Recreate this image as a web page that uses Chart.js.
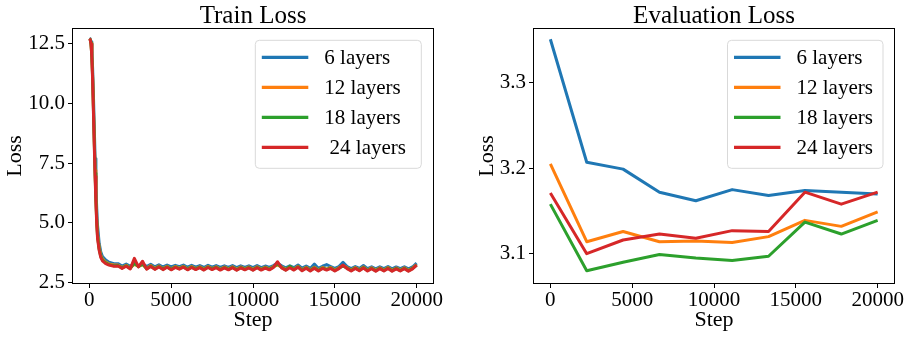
<!DOCTYPE html>
<html>
<head>
<meta charset="utf-8">
<script src="https://cdn.jsdelivr.net/npm/chart.js@4.4.1/dist/chart.umd.min.js"></script>
<style>
html, body { margin: 0; padding: 0; background: #fff; }
#wrap { position: relative; width: 911px; height: 338px; }
#trainBox { position: absolute; left: 0; top: 0; width: 455px; height: 338px; }
#evalBox { position: absolute; left: 455px; top: 0; width: 456px; height: 338px; }
</style>
</head>
<body>
<div id="wrap">
  <div id="trainBox"><canvas id="trainChart" width="455" height="338"></canvas></div>
  <div id="evalBox"><canvas id="evalChart" width="456" height="338"></canvas></div>
</div>
<script>
// DATA
const evalNames = ['6 layers', '12 layers', '18 layers', '24 layers'];
const trainNames = ['6 layers', '12 layers', '18 layers', ' 24 layers'];
const seriesColors = ['#1f77b4', '#ff7f0e', '#2ca02c', '#d62728'];

const trainSteps = [
  0, 50, 100, 150, 200, 250, 300, 350, 400, 450, 500, 600, 700, 800, 1000, 1200, 1500,
  1750, 2000, 2250, 2500, 2750, 3000, 3250, 3500,
  3750, 4000, 4250, 4500, 4750, 5000, 5250, 5500,
  5750, 6000, 6250, 6500, 6750, 7000, 7250, 7500,
  7750, 8000, 8250, 8500, 8750, 9000, 9250, 9500,
  9750, 10000, 10250, 10500, 10750, 11000, 11250, 11500,
  11750, 12000, 12250, 12500, 12750, 13000, 13250, 13500,
  13750, 14000, 14250, 14500, 14750, 15000, 15250, 15500,
  15750, 16000, 16250, 16500, 16750, 17000, 17250, 17500,
  17750, 18000, 18250, 18500, 18750, 19000, 19250, 19500,
  19750, 20000
];
const train6 = [
  12.72, 12.70, 12.58, 12.25, 11.45, 10.30, 9.00, 7.70, 6.55, 5.60, 4.90, 4.15, 3.78, 3.60, 3.45, 3.36, 3.30,
  3.30, 3.20, 3.28, 3.19, 3.32, 3.21, 3.30, 3.18,
  3.27, 3.17, 3.25, 3.16, 3.24, 3.16, 3.23, 3.17,
  3.24, 3.15, 3.23, 3.15, 3.22, 3.14, 3.23, 3.15,
  3.22, 3.14, 3.21, 3.14, 3.22, 3.13, 3.21, 3.14,
  3.21, 3.13, 3.22, 3.13, 3.20, 3.14, 3.22, 3.32,
  3.21, 3.12, 3.21, 3.13, 3.24, 3.11, 3.20, 3.10,
  3.28, 3.10, 3.19, 3.26, 3.18, 3.10, 3.18, 3.35,
  3.18, 3.09, 3.18, 3.10, 3.22, 3.09, 3.17, 3.08,
  3.17, 3.09, 3.18, 3.08, 3.16, 3.09, 3.17, 3.08,
  3.16, 3.32
];
const train12 = [
  12.70, 12.68, 12.52, 12.05, 11.15, 9.85, 8.50, 7.20, 6.10, 5.20, 4.55, 3.98, 3.65, 3.50, 3.36, 3.29, 3.24,
  3.24, 3.14, 3.23, 3.12, 3.28, 3.18, 3.26, 3.11,
  3.22, 3.10, 3.20, 3.09, 3.19, 3.08, 3.18, 3.11,
  3.19, 3.08, 3.18, 3.09, 3.17, 3.07, 3.18, 3.09,
  3.17, 3.07, 3.16, 3.08, 3.17, 3.06, 3.16, 3.08,
  3.16, 3.06, 3.17, 3.07, 3.15, 3.08, 3.18, 3.24,
  3.16, 3.06, 3.17, 3.07, 3.19, 3.04, 3.15, 3.03,
  3.15, 3.03, 3.14, 3.07, 3.14, 3.03, 3.13, 3.22,
  3.13, 3.03, 3.14, 3.04, 3.16, 3.03, 3.13, 3.02,
  3.13, 3.03, 3.14, 3.02, 3.12, 3.03, 3.13, 3.02,
  3.12, 3.26
];
const train18 = [
  12.70, 12.67, 12.50, 12.00, 11.05, 9.72, 8.38, 7.08, 5.98, 5.05, 4.45, 3.90, 3.60, 3.46, 3.33, 3.26, 3.21,
  3.22, 3.12, 3.21, 3.10, 3.32, 3.17, 3.28, 3.09,
  3.20, 3.08, 3.18, 3.07, 3.17, 3.06, 3.16, 3.09,
  3.17, 3.06, 3.16, 3.07, 3.15, 3.05, 3.16, 3.07,
  3.15, 3.05, 3.14, 3.06, 3.15, 3.04, 3.14, 3.06,
  3.14, 3.04, 3.15, 3.05, 3.13, 3.06, 3.16, 3.30,
  3.14, 3.04, 3.19, 3.05, 3.17, 3.02, 3.13, 3.01,
  3.13, 3.01, 3.12, 3.05, 3.12, 3.01, 3.11, 3.20,
  3.11, 3.01, 3.12, 3.02, 3.14, 3.01, 3.11, 3.00,
  3.11, 3.01, 3.12, 3.00, 3.10, 3.01, 3.11, 3.00,
  3.10, 3.24
];
const train24 = [
  12.70, 12.66, 12.48, 11.95, 10.95, 9.60, 8.25, 6.95, 5.85, 4.95, 4.35, 3.85, 3.55, 3.42, 3.30, 3.24, 3.19,
  3.20, 3.10, 3.19, 3.08, 3.52, 3.16, 3.40, 3.07,
  3.18, 3.06, 3.16, 3.05, 3.15, 3.04, 3.14, 3.07,
  3.15, 3.04, 3.14, 3.05, 3.13, 3.03, 3.14, 3.05,
  3.13, 3.03, 3.12, 3.04, 3.13, 3.02, 3.12, 3.04,
  3.12, 3.02, 3.13, 3.03, 3.11, 3.04, 3.14, 3.38,
  3.12, 3.02, 3.13, 3.03, 3.15, 3.00, 3.11, 2.99,
  3.11, 2.99, 3.10, 3.03, 3.10, 2.99, 3.09, 3.24,
  3.09, 2.99, 3.10, 3.00, 3.12, 2.99, 3.09, 2.98,
  3.09, 2.99, 3.10, 2.98, 3.08, 2.99, 3.09, 2.98,
  3.08, 3.24
];

const evalSteps = [0, 2222, 4444, 6667, 8889, 11111, 13333, 15556, 17778, 20000];
const eval6  = [3.351, 3.207, 3.199, 3.172, 3.162, 3.175, 3.168, 3.174, 3.172, 3.170];
const eval12 = [3.205, 3.114, 3.126, 3.114, 3.115, 3.113, 3.120, 3.139, 3.132, 3.149];
const eval18 = [3.158, 3.080, 3.090, 3.099, 3.095, 3.092, 3.097, 3.137, 3.123, 3.139];
const eval24 = [3.171, 3.100, 3.116, 3.123, 3.118, 3.127, 3.126, 3.172, 3.158, 3.172];

const stepTicks = [0, 5000, 10000, 15000, 20000];
const trainLossTicks = [2.5, 5.0, 7.5, 10.0, 12.5];
const evalLossTicks = [3.1, 3.2, 3.3];

const FONT = 'Liberation Serif';

// frame box + legend inside the axes
const frameAndLegend = {
  id: 'frameAndLegend',
  afterDatasetsDraw(chart, args, opts) {
    const ctx = chart.ctx;
    const a = chart.chartArea;
    ctx.save();
    ctx.strokeStyle = '#000';
    ctx.lineWidth = 1;
    ctx.strokeRect(Math.round(a.left) - 0.5, Math.round(a.top) - 0.5,
      Math.round(a.right - a.left) + 1, Math.round(a.bottom - a.top) + 1);

    const bx = a.right - opts.rightGap - opts.width;
    const by = a.top + opts.topGap;
    ctx.beginPath();
    ctx.roundRect(bx, by, opts.width, opts.height, 4);
    ctx.fillStyle = 'rgba(255,255,255,0.8)';
    ctx.fill();
    ctx.strokeStyle = '#d9d9d9';
    ctx.stroke();

    ctx.font = '21px "' + FONT + '"';
    ctx.textBaseline = 'alphabetic';
    chart.data.datasets.forEach((ds, i) => {
      const y = by + 17 + i * 30;
      ctx.strokeStyle = ds.borderColor;
      ctx.lineWidth = 3.3;
      ctx.beginPath();
      ctx.moveTo(bx + 6.5, y);
      ctx.lineTo(bx + 53, y);
      ctx.stroke();
      ctx.fillStyle = '#000';
      ctx.fillText(ds.label, bx + 69, y + 7);
    });
    ctx.restore();
  }
};

const makeDatasets = (steps, lists, names) => lists.map((vals, i) => ({
  label: names[i],
  data: steps.map((s, j) => ({ x: s, y: vals[j] })),
  borderColor: seriesColors[i],
  backgroundColor: seriesColors[i],
  borderWidth: 3,
  pointRadius: 0,
  tension: 0,
  fill: false,
  borderJoinStyle: 'round',
  order: lists.length - i
}));

const makeChart = (id, cfg) => {
  return new Chart(document.getElementById(id), {
    type: 'line',
    data: { datasets: cfg.datasets },
    options: {
      responsive: false,
      animation: false,
      devicePixelRatio: 1,
      layout: { padding: { left: 0, right: cfg.rightPad, top: 0, bottom: 0 } },
      plugins: {
        legend: { display: false },
        tooltip: { enabled: false },
        title: {
          display: true,
          text: cfg.title,
          fullSize: false,
          color: '#000',
          font: { family: FONT, size: 25, weight: 'normal', lineHeight: 1 },
          padding: { top: 3.9, bottom: 0.1 }
        },
        frameAndLegend: cfg.legend
      },
      scales: {
        x: {
          type: 'linear',
          min: -1000,
          max: 21000,
          afterBuildTicks: s => { s.ticks = stepTicks.map(v => ({ value: v })); },
          afterFit: s => { s.height = 55; },
          ticks: {
            font: { family: FONT, size: 21 },
            color: '#000',
            padding: 0,
            maxRotation: 0,
            autoSkip: false,
            callback: v => String(v)
          },
          grid: { drawOnChartArea: false, drawTicks: true, tickLength: 5, color: '#000' },
          border: { display: false },
          title: {
            display: true, text: 'Step', color: '#000',
            font: { family: FONT, size: 22 },
            padding: { top: 0, bottom: 4.8 }
          }
        },
        y: {
          min: cfg.yMin,
          max: cfg.yMax,
          afterBuildTicks: s => { s.ticks = cfg.yTicks.map(v => ({ value: v })); },
          afterFit: s => { s.width = cfg.yWidth; },
          ticks: {
            font: { family: FONT, size: 21 },
            color: '#000',
            padding: 3,
            callback: v => v.toFixed(1)
          },
          grid: { drawOnChartArea: false, drawTicks: true, tickLength: 5, color: '#000' },
          border: { display: false },
          title: {
            display: true, text: 'Loss', color: '#000',
            font: { family: FONT, size: 22 },
            padding: { top: cfg.yTitlePad, bottom: 0 }
          }
        }
      }
    },
    plugins: [frameAndLegend]
  });
};

makeChart('trainChart', {
  title: 'Train Loss',
  datasets: makeDatasets(trainSteps, [train6, train12, train18, train24], trainNames),
  yMin: 2.49, yMax: 13.11, yTicks: trainLossTicks,
  yWidth: 73, yTitlePad: 1.8, rightPad: 22,
  legend: { width: 166, height: 128, rightGap: 11.7, topGap: 11.3 }
});

makeChart('evalChart', {
  title: 'Evaluation Loss',
  datasets: makeDatasets(evalSteps, [eval6, eval12, eval18, eval24], evalNames),
  yMin: 3.0657, yMax: 3.363, yTicks: evalLossTicks,
  yWidth: 79, yTitlePad: 19.1, rightPad: 17,
  legend: { width: 155.5, height: 128, rightGap: 11, topGap: 11.3 }
});
</script>
</body>
</html>
